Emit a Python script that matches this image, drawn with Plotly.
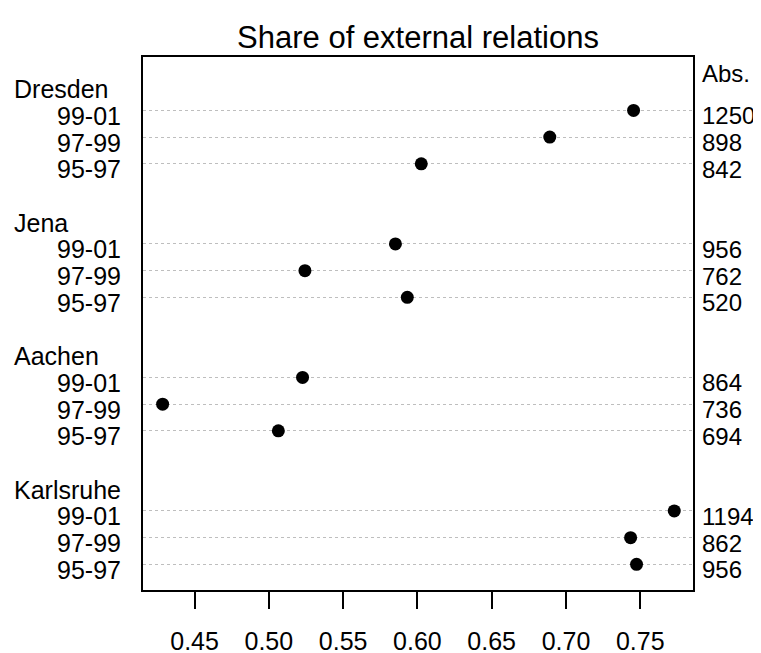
import plotly.graph_objects as go

# ---- data ----
groups = ["Dresden", "Jena", "Aachen", "Karlsruhe"]
periods = ["99-01", "97-99", "95-97"]
share_dresden = [0.7455, 0.6891, 0.6026]
share_jena = [0.5852, 0.5243, 0.5932]
share_aachen = [0.5227, 0.4285, 0.5064]
share_karlsruhe = [0.7729, 0.7435, 0.7475]
abs_dresden = [1250, 898, 842]
abs_jena = [956, 762, 520]
abs_aachen = [864, 736, 694]
abs_karlsruhe = [1194, 862, 956]
x_ticks = [0.45, 0.50, 0.55, 0.60, 0.65, 0.70, 0.75]

shares = [share_dresden, share_jena, share_aachen, share_karlsruhe]
abss = [abs_dresden, abs_jena, abs_aachen, abs_karlsruhe]

FONT = "Liberation Sans, Arial, Helvetica, sans-serif"
FS = 25
FS_R = 24

# build row positions like R's dotchart (bottom group first)
ng = len(groups)
xs, ys, group_y, labels_y = [], [], [], []
for gi, g in enumerate(groups):
    base = (ng - 1 - gi) * 5  # group offset from bottom
    n = len(periods)
    rows = [base + (n - k) for k in range(n)]  # top item gets highest row
    group_y.append(base + n + 1)
    for k in range(n):
        xs.append(shares[gi][k])
        ys.append(rows[k])
        labels_y.append((periods[k], abss[gi][k], rows[k]))

fig = go.Figure()
fig.add_trace(go.Scatter(
    x=xs, y=ys, mode="markers",
    marker=dict(color="black", size=13, line=dict(width=0)),
    showlegend=False, hoverinfo="x+y",
))

ann = []
LABEL_SHIFT = -5.5
for gi, g in enumerate(groups):
    ann.append(dict(text=g, xref="paper", x=0, xshift=-131, xanchor="left",
                    yref="y", y=group_y[gi], yshift=LABEL_SHIFT, yanchor="middle",
                    showarrow=False, font=dict(family=FONT, size=FS, color="black")))
for per, ab, r in labels_y:
    ann.append(dict(text=per, xref="paper", x=0, xshift=-20, xanchor="right",
                    yref="y", y=r, yshift=LABEL_SHIFT, yanchor="middle",
                    showarrow=False, font=dict(family=FONT, size=FS, color="black")))
    ann.append(dict(text=str(ab), xref="paper", x=1, xshift=7, xanchor="left",
                    yref="y", y=r, yshift=LABEL_SHIFT, yanchor="middle",
                    showarrow=False, font=dict(family=FONT, size=FS_R, color="black")))
ann.append(dict(text="Abs.", xref="paper", x=1, xshift=7, xanchor="left",
                yref="y", y=19.4, yanchor="middle",
                showarrow=False, font=dict(family=FONT, size=FS_R, color="black")))

# page body adds an 8px offset, so the figure is 8px smaller on each axis
fig.update_layout(
    template="none",
    width=753, height=645,
    margin=dict(l=135, r=68, t=49, b=63, pad=0, autoexpand=False),
    paper_bgcolor="white", plot_bgcolor="white",
    font=dict(family=FONT, size=FS, color="black"),
    title=dict(text="Share of external relations", x=0.5, xref="paper",
               y=1 - 28.7 / 645, yref="container", yanchor="middle", xanchor="center",
               font=dict(family=FONT, size=31, color="black")),
    annotations=ann,
    showlegend=False,
)
fig.update_xaxes(
    range=[0.4153, 0.7855], tickvals=x_ticks, ticktext=[f"{v:.2f}" for v in x_ticks],
    showgrid=False, zeroline=False, showline=True, linecolor="black", linewidth=1.5,
    mirror=True, ticks="outside", ticklen=17, tickwidth=1.5, tickcolor="black",
    ticklabelstandoff=11, automargin=False,
    tickfont=dict(family=FONT, size=FS, color="black"),
)
fig.update_yaxes(
    range=[0.04, 20.0], tickvals=ys, showticklabels=False, ticks="",
    showgrid=True, gridcolor="#BEBEBE", gridwidth=1, griddash="3px,3px",
    zeroline=False, showline=True, linecolor="black", linewidth=1.5, mirror=True,
    automargin=False,
)

fig.write_html("out.html")
